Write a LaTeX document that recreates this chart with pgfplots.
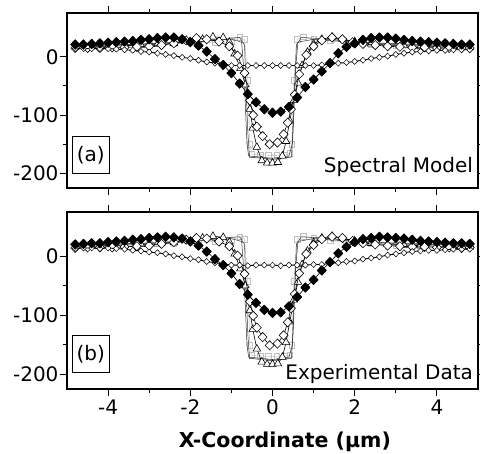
\documentclass[border=0pt]{standalone}
\usepackage{fontspec}
\setmainfont{DejaVu Sans}
\usepackage{pgfplots}
\usepackage{pgfplotstable}
\pgfplotsset{compat=1.18}

% ---------- panel (a): spectral model ----------
\pgfplotstableread{
x y
-4.8 14
-4.6 14
-4.4 14
-4.2 14
-4.0 14
-3.8 13
-3.6 12
-3.4 11
-3.2 9
-3.0 8
-2.8 6
-2.6 4
-2.4 2
-2.2 -1
-2.0 -3
-1.8 -6
-1.6 -9
-1.4 -11
-1.2 -13
-1.0 -15
-0.8 -15
-0.6 -15
-0.4 -15
-0.2 -15
0.0 -15
0.2 -15
0.4 -15
0.6 -15
0.8 -15
1.0 -15
1.2 -14
1.4 -13
1.6 -11
1.8 -10
2.0 -8
2.2 -6
2.4 -3
2.6 -1
2.8 1
3.0 4
3.2 6
3.4 8
3.6 9
3.8 10
4.0 11
4.2 11
4.4 12
4.6 12
4.8 12
}\aS

\pgfplotstableread{
x y
-4.8 21
-4.6 21
-4.4 22
-4.2 23
-4.0 24
-3.8 25
-3.6 26
-3.4 27
-3.2 29
-3.0 30
-2.8 32
-2.6 33
-2.4 33
-2.2 30
-2.0 25
-1.8 19
-1.6 9
-1.4 -4
-1.2 -14
-1.0 -28
-0.8 -46
-0.6 -64
-0.4 -78
-0.2 -90
0.0 -96
0.2 -94
0.4 -86
0.6 -70
0.8 -52
1.0 -39
1.2 -25
1.4 -11
1.6 6
1.8 17
2.0 23
2.2 29
2.4 32
2.6 33
2.8 33
3.0 31
3.2 29
3.4 27
3.6 26
3.8 25
4.0 24
4.2 23
4.4 22
4.6 21
4.8 21
}\aF

\pgfplotstableread{
x y
-4.8 15
-4.5 15
-4.2 15
-3.9 16
-3.6 16
-3.3 17
-3.0 18
-2.7 20
-2.4 23
-2.1 28
-1.85 32
-1.6 30
-1.3 26
-1.05 18
-0.85 2
-0.68 -28
-0.55 -75
-0.47 -100
-0.38 -120
-0.24 -136
-0.07 -150
0.12 -147
0.27 -133
0.37 -113
0.45 -90
0.54 -65
0.65 -30
0.82 3
1.0 18
1.2 28
1.45 33
1.7 30
1.95 25
2.2 22
2.5 20
2.8 18
3.1 17
3.4 16
3.7 16
4.0 15
4.3 15
4.6 15
4.8 15
}\aO

\pgfplotstableread{
x y
-4.8 17
-4.4 18
-4.0 18
-3.6 19
-3.2 20
-2.8 21
-2.4 23
-2.0 26
-1.7 30
-1.45 34
-1.2 33
-1.05 25
-0.92 5
-0.78 -20
-0.66 -48
-0.55 -90
-0.48 -122
-0.38 -155
-0.26 -178
-0.13 -182
0.0 -182
0.13 -181
0.24 -170
0.33 -145
0.42 -110
0.52 -75
0.62 -45
0.72 -15
0.85 8
1.0 22
1.2 30
1.45 34
1.7 30
2.0 26
2.4 22
2.8 20
3.2 19
3.6 18
4.0 17
4.4 17
4.8 16
}\aT

\pgfplotstableread{
x y
-4.8 18
-4.2 18
-3.6 19
-3.0 20
-2.4 22
-1.8 24
-1.4 25
-1.0 26
-0.8 33
-0.68 30
-0.6 -40
-0.55 -150
-0.5 -167
-0.3 -168
-0.1 -169
0.1 -169
0.3 -168
0.42 -166
0.47 -150
0.52 -40
0.6 30
0.75 34
1.0 30
1.4 27
1.8 24
2.4 21
3.0 19
3.6 18
4.2 17
4.8 17
}\aQ

\pgfplotstableread{
x y
-4.8 19
-3.0 22
-2.0 27
-1.3 31
-0.8 33
-0.68 20
-0.64 -60
-0.6 -130
-0.56 -172
0.0 -176
0.46 -172
0.5 -130
0.54 -60
0.58 20
0.7 33
1.2 31
2.0 26
3.0 21
4.8 18
}\aL

\pgfplotstableread{
x y
-4.8 18
-2.0 25
-1.0 30
-0.75 25
-0.7 -20
-0.62 -150
-0.58 -170
0.0 -174
0.4 -170
0.48 -150
0.56 -20
0.62 25
1.0 30
2.0 25
4.8 18
}\aM

% ---------- panel (b): experimental data ----------
\pgfplotstableread{
x y
-4.8 13
-4.6 14
-4.4 14
-4.2 13
-4.0 14
-3.8 13
-3.6 12
-3.4 10
-3.2 9
-3.0 7
-2.8 6
-2.6 4
-2.4 1
-2.2 -1
-2.0 -4
-1.8 -6
-1.6 -9
-1.4 -11
-1.2 -13
-1.0 -15
-0.8 -15
-0.6 -16
-0.4 -15
-0.2 -15
0.0 -15
0.2 -16
0.4 -15
0.6 -15
0.8 -15
1.0 -14
1.2 -14
1.4 -12
1.6 -11
1.8 -9
2.0 -8
2.2 -5
2.4 -3
2.6 -1
2.8 2
3.0 4
3.2 6
3.4 8
3.6 9
3.8 10
4.0 10
4.2 11
4.4 12
4.6 12
4.8 12
}\bS

\pgfplotstableread{
x y
-4.8 20
-4.6 21
-4.4 22
-4.2 22
-4.0 24
-3.8 25
-3.6 26
-3.4 28
-3.2 29
-3.0 31
-2.8 32
-2.6 33
-2.4 32
-2.2 30
-2.0 25
-1.8 18
-1.6 8
-1.4 -5
-1.2 -15
-1.0 -29
-0.8 -47
-0.6 -65
-0.4 -79
-0.2 -91
0.0 -96
0.2 -95
0.4 -85
0.6 -69
0.8 -53
1.0 -40
1.2 -24
1.4 -10
1.6 5
1.8 16
2.0 24
2.2 29
2.4 31
2.6 33
2.8 32
3.0 31
3.2 30
3.4 28
3.6 26
3.8 25
4.0 24
4.2 23
4.4 22
4.6 22
4.8 21
}\bF

\pgfplotstableread{
x y
-4.8 14
-4.5 15
-4.2 15
-3.9 15
-3.6 16
-3.3 17
-3.0 18
-2.7 21
-2.4 24
-2.1 28
-1.85 31
-1.6 30
-1.3 25
-1.05 17
-0.85 1
-0.68 -30
-0.55 -77
-0.47 -101
-0.38 -121
-0.24 -137
-0.07 -151
0.12 -148
0.27 -134
0.37 -112
0.45 -88
0.54 -64
0.65 -29
0.82 4
1.0 19
1.2 29
1.45 33
1.7 31
1.95 26
2.2 22
2.5 20
2.8 18
3.1 17
3.4 16
3.7 16
4.0 15
4.3 15
4.6 14
4.8 15
}\bO

\pgfplotstableread{
x y
-4.8 17
-4.4 17
-4.0 18
-3.6 19
-3.2 20
-2.8 21
-2.4 23
-2.0 26
-1.7 31
-1.45 34
-1.2 32
-1.05 24
-0.92 4
-0.78 -21
-0.66 -50
-0.55 -92
-0.48 -124
-0.38 -157
-0.26 -179
-0.13 -183
0.0 -183
0.13 -182
0.24 -171
0.33 -146
0.42 -111
0.52 -74
0.62 -44
0.72 -14
0.85 9
1.0 23
1.2 31
1.45 34
1.7 31
2.0 26
2.4 22
2.8 20
3.2 19
3.6 18
4.0 17
4.4 16
4.8 16
}\bT

\pgfplotstableread{
x y
-4.8 18
-4.2 18
-3.6 19
-3.0 21
-2.4 22
-1.8 24
-1.4 25
-1.0 27
-0.8 33
-0.68 29
-0.6 -42
-0.55 -151
-0.5 -168
-0.3 -169
-0.1 -170
0.1 -170
0.3 -169
0.42 -167
0.47 -151
0.52 -42
0.6 29
0.75 34
1.0 30
1.4 27
1.8 24
2.4 21
3.0 19
3.6 18
4.2 17
4.8 17
}\bQ

\pgfplotstableread{
x y
-4.8 19
-3.0 22
-2.0 27
-1.3 31
-0.8 33
-0.68 20
-0.64 -62
-0.6 -132
-0.56 -173
0.0 -177
0.46 -173
0.5 -132
0.54 -62
0.58 20
0.7 33
1.2 31
2.0 26
3.0 21
4.8 18
}\bL

\pgfplotstableread{
x y
-4.8 18
-2.0 25
-1.0 30
-0.75 25
-0.7 -22
-0.62 -152
-0.58 -171
0.0 -175
0.4 -171
0.48 -152
0.56 -22
0.62 25
1.0 30
2.0 25
4.8 18
}\bM

\newcommand{\bigfont}{\fontsize{20bp}{22bp}\selectfont}

\pgfplotsset{
  panel/.style={
    scale only axis,
    width=411bp,
    xmin=-5, xmax=5, ymin=-225, ymax=75,
    xtick={-4,-2,0,2,4},
    ytick={-200,-100,0},
    yticklabels={-200,-100,0},
    minor x tick num=1, minor y tick num=1,
    tick align=outside,
    major tick length=7bp, minor tick length=4bp,
    axis line style={line width=1.1pt},
    every tick/.style={line width=1.1pt, black},
    tick label style={font=\bigfont},
    yticklabel style={xshift=2bp},
    clip mode=individual,
  },
  sq/.style={gray!55, line width=0.4pt, mark=square, mark size=2.8pt,
    mark options={gray!50, fill=white, line width=0.6pt}},
  thinline/.style={black!80, line width=0.5pt, no markers},
  tri/.style={black, line width=0.6pt, mark=triangle*, mark size=4.4pt,
    mark options={fill=white, line width=0.6pt}},
  opdia/.style={black, line width=0.6pt, mark=diamond*, mark size=4.6pt,
    mark options={fill=white, line width=0.6pt, xscale=1.3}},
  smdia/.style={black, line width=0.9pt, mark=diamond*, mark size=3.0pt,
    mark options={fill=white, line width=0.5pt, xscale=1.3}},
  fdia/.style={black, line width=0.6pt, mark=diamond*, mark size=4.6pt,
    mark options={fill=black, xscale=1.3, line join=round, line width=1pt}},
}

\begin{document}
\begin{tikzpicture}

% upper panel
\begin{axis}[panel, height=175bp, at={(0,0)}, anchor=south west,
  xticklabels={}]
  \addplot[sq] table {\aQ};
  \addplot[thinline] table {\aL};
  \addplot[thinline] table {\aM};
  \addplot[tri] table {\aT};
  \addplot[opdia] table {\aO};
  \addplot[smdia] table {\aS};
  \addplot[fdia] table {\aF};
  \node[draw, line width=0.6pt, minimum width=37bp, minimum height=37bp,
    inner sep=0pt, anchor=south west, font=\bigfont]
    at (rel axis cs:0.012,0.08) {(a)};
  \node[anchor=base east, inner sep=0pt, font=\bigfont]
    at (rel axis cs:0.988,0.086) {Spectral Model};
\end{axis}

% lower panel
\begin{axis}[panel, height=177bp, at={(0,-201bp)}, anchor=south west,
  xticklabels={-4,-2,0,2,4}]
  \addplot[sq] table {\bQ};
  \addplot[thinline] table {\bL};
  \addplot[thinline] table {\bM};
  \addplot[tri] table {\bT};
  \addplot[opdia] table {\bO};
  \addplot[smdia] table {\bS};
  \addplot[fdia] table {\bF};
  \node[draw, line width=0.6pt, minimum width=37bp, minimum height=37bp,
    inner sep=0pt, anchor=south west, font=\bigfont]
    at (rel axis cs:0.012,0.09) {(b)};
  \node[anchor=base east, inner sep=0pt, font=\bigfont]
    at (rel axis cs:0.988,0.056) {Experimental Data};
  \node[anchor=base, inner sep=0pt, font=\fontsize{20.5bp}{22bp}\selectfont\bfseries]
    at ([yshift=-58bp]rel axis cs:0.53,0) {X-Coordinate (µm)};
\end{axis}

\pgfresetboundingbox
\useasboundingbox (-67bp,-266bp) rectangle (413bp,188bp);
\end{tikzpicture}
\end{document}
